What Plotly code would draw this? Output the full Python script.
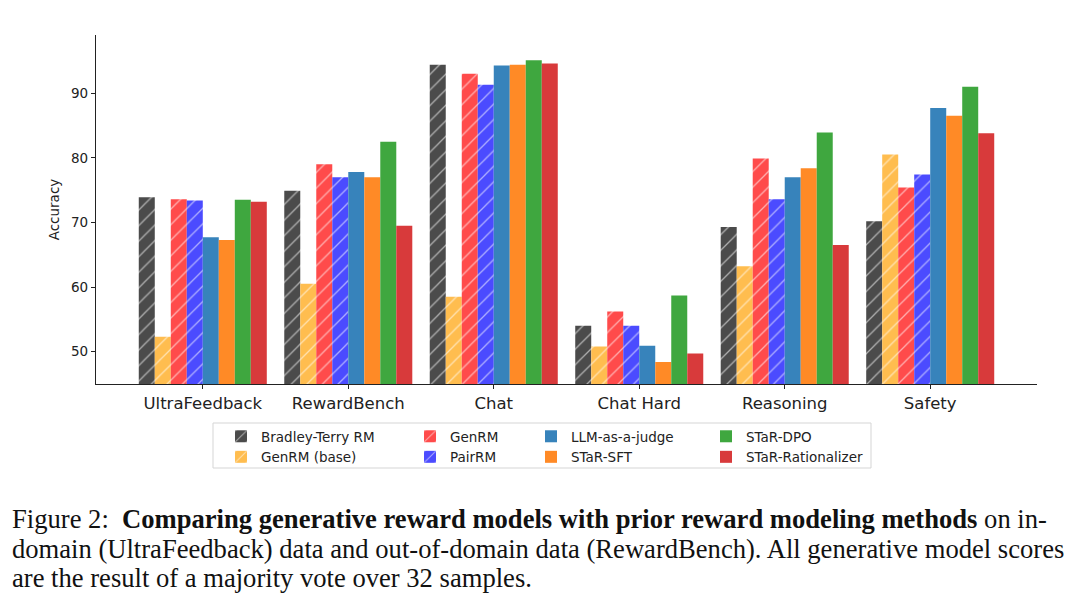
import plotly.graph_objects as go

categories = ["UltraFeedback", "RewardBench", "Chat", "Chat Hard", "Reasoning", "Safety"]

series_names = ["Bradley-Terry RM", "GenRM (base)", "GenRM", "PairRM",
                "LLM-as-a-judge", "STaR-SFT", "STaR-DPO", "STaR-Rationalizer"]

bradley_terry = [73.9, 74.9, 94.4, 54.0, 69.3, 70.2]
genrm_base = [52.3, 60.5, 58.5, 50.8, 63.2, 80.5]
genrm = [73.6, 79.0, 93.0, 56.2, 79.9, 75.4]
pairrm = [73.4, 77.0, 91.3, 54.0, 73.6, 77.4]
llm_judge = [67.7, 77.8, 94.3, 50.9, 77.0, 87.7]
star_sft = [67.3, 77.0, 94.4, 48.4, 78.4, 86.5]
star_dpo = [73.5, 82.5, 95.1, 58.7, 83.9, 91.0]
star_rationalizer = [73.2, 69.5, 94.6, 49.7, 66.5, 83.8]

values = [bradley_terry, genrm_base, genrm, pairrm, llm_judge, star_sft, star_dpo, star_rationalizer]
colors = ["#4b4b4b", "#ffbd4f", "#ff4b4b", "#4b4bff", "#3783bb", "#ff8a26", "#3fa73f", "#d83a3b"]
hatched = [True, True, True, True, False, False, False, False]
legend_ids = ["legend", "legend", "legend2", "legend2", "legend3", "legend3", "legend4", "legend4"]

W, H = 1080, 597
L, R, T, B = 96, 43, 35, 213
pw, ph = W - L - R, H - T - B

def px_x(p):
    return (p - L) / pw

def px_y(p):
    return (H - B - p) / ph

fig = go.Figure()
xs = list(range(len(categories)))
for name, vals, col, hat, lg in zip(series_names, values, colors, hatched, legend_ids):
    marker = dict(color=col, line=dict(width=0))
    if hat:
        marker["pattern"] = dict(shape="/", fgcolor="white", fgopacity=0.55, size=11, solidity=0.12)
    fig.add_trace(go.Bar(x=xs, y=vals, name=name, marker=marker, legend=lg))

legend_common = dict(
    orientation="v", yanchor="top", xanchor="left",
    font=dict(family="DejaVu Sans", size=13.5, color="#222"),
    bgcolor="rgba(0,0,0,0)", borderwidth=0, tracegroupgap=0,
    itemsizing="constant", traceorder="normal",
)
ly = px_y(421)
fig.update_layout(
    legend=dict(x=px_x(221), y=ly, **legend_common),
    legend2=dict(x=px_x(410), y=ly, **legend_common),
    legend3=dict(x=px_x(531), y=ly, **legend_common),
    legend4=dict(x=px_x(706), y=ly, **legend_common),
)

fig.update_layout(
    width=W, height=H,
    margin=dict(l=L, r=R, t=T, b=B, autoexpand=False),
    paper_bgcolor="white", plot_bgcolor="white",
    barmode="group", bargap=0.12, bargroupgap=0,
    font=dict(family="DejaVu Sans", color="#222"),
    xaxis=dict(
        range=[-0.734, 5.734], tickmode="array", tickvals=xs, ticktext=categories,
        showline=True, linecolor="#222", linewidth=1.2, ticks="outside", ticklen=4,
        tickcolor="#222", showgrid=False, zeroline=False,
        tickfont=dict(size=16.5, family="DejaVu Sans", color="#222"),
    ),
    yaxis=dict(
        range=[45, 99], tickvals=[50, 60, 70, 80, 90],
        showline=True, linecolor="#222", linewidth=1.2, ticks="outside", ticklen=4,
        tickcolor="#222", showgrid=False, zeroline=False,
        tickfont=dict(size=13.5, family="DejaVu Sans", color="#222"),
        title=dict(text="Accuracy", font=dict(size=13.5, family="DejaVu Sans", color="#222"), standoff=8),
    ),
)

# legend frame
fig.add_shape(type="rect", xref="paper", yref="paper",
              x0=px_x(213), x1=px_x(871), y0=px_y(468), y1=px_y(423),
              line=dict(color="#d5d5d5", width=1), fillcolor="rgba(0,0,0,0)", layer="above")

cap_font = dict(family="Liberation Serif", size=26.6, color="#111")
caption_lines = [
    ("Figure 2:  <b>Comparing generative reward models with prior reward modeling methods</b> on in-", 519),
    ("domain (UltraFeedback) data and out-of-domain data (RewardBench). All generative model scores", 549),
    ("are the result of a majority vote over 32 samples.", 578),
]
for txt, yy in caption_lines:
    fig.add_annotation(text=txt, xref="paper", yref="paper", x=px_x(10), y=px_y(yy),
                       xanchor="left", yanchor="middle", showarrow=False, font=cap_font)

fig.write_html("out.html")
